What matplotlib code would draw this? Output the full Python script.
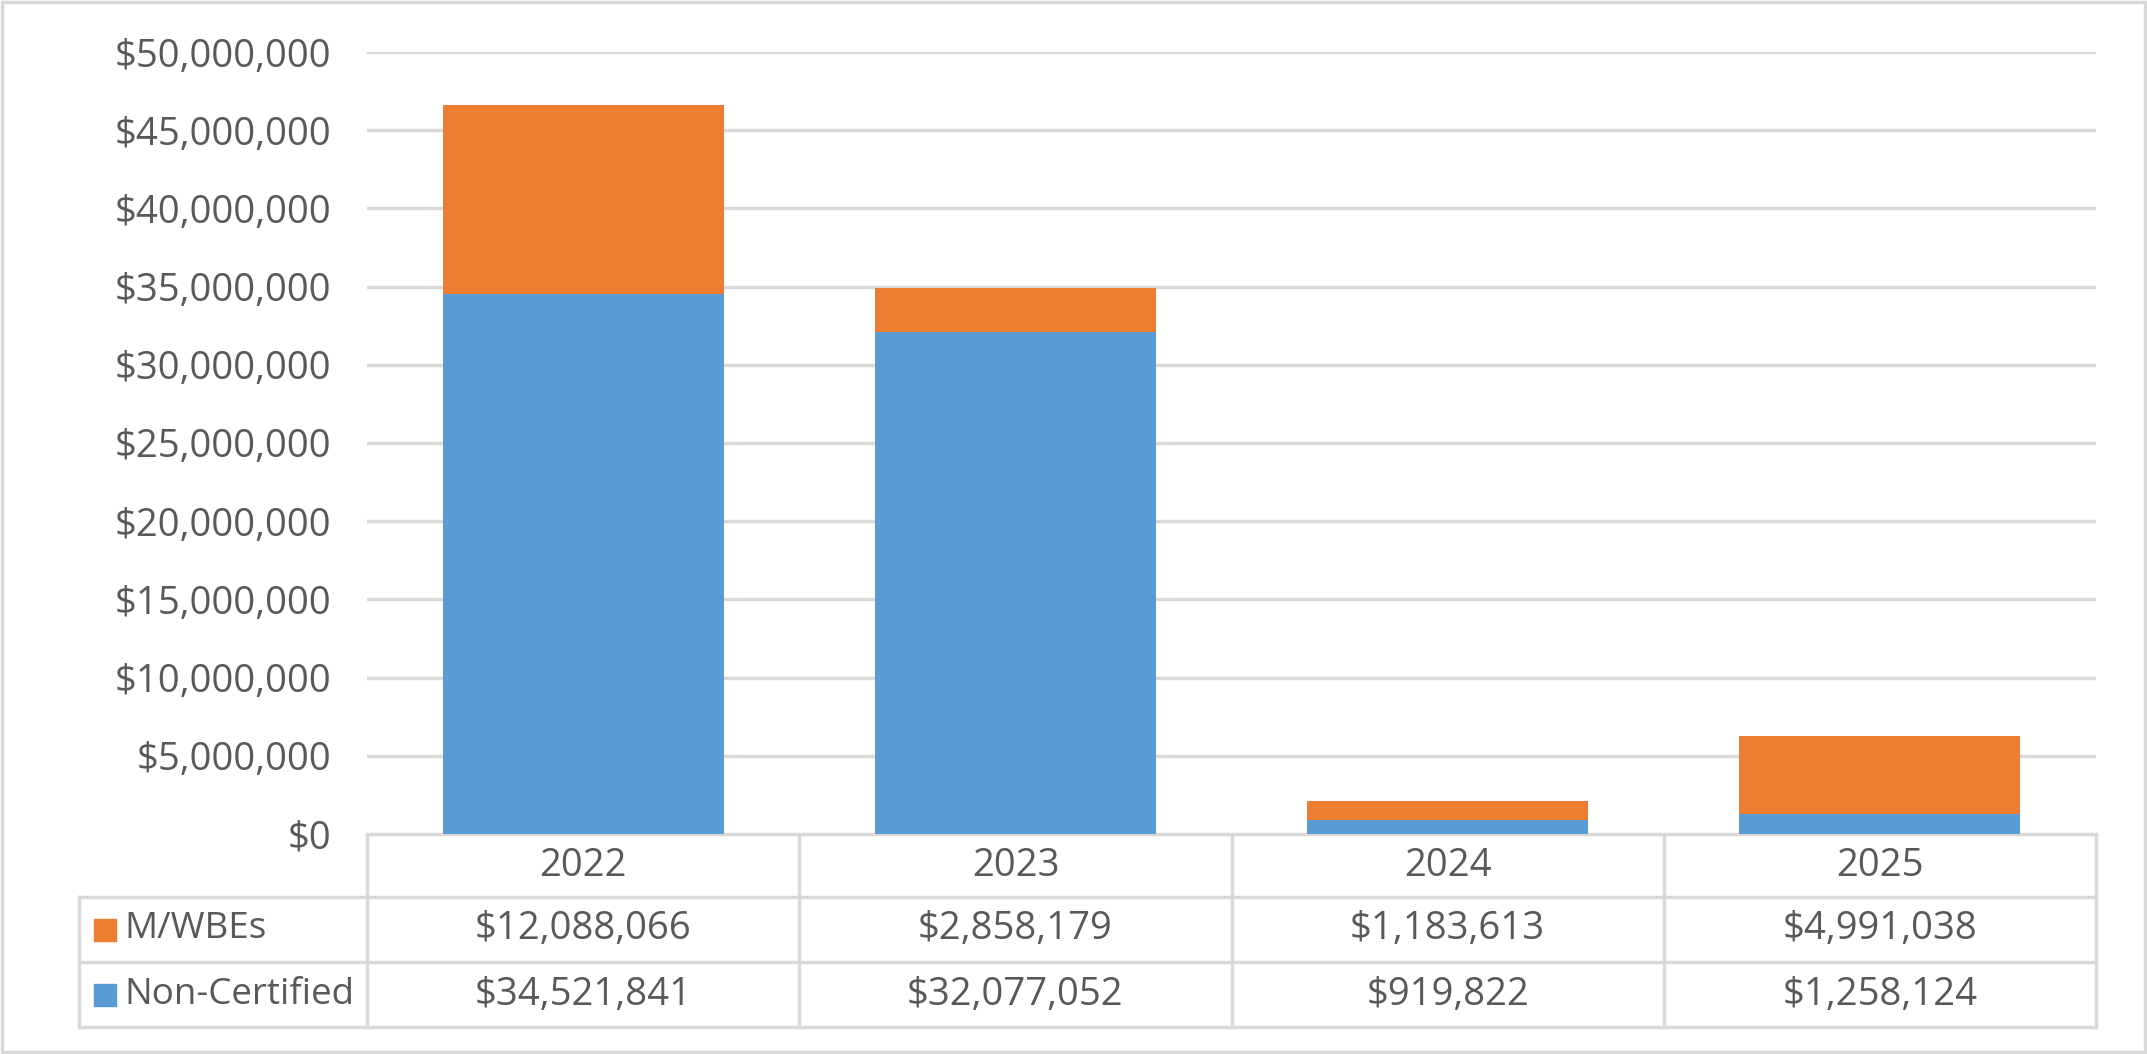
import matplotlib
matplotlib.use("Agg")
import matplotlib.pyplot as plt
import matplotlib.transforms as mtransforms
from matplotlib.patches import Rectangle
from matplotlib.ticker import FuncFormatter, MultipleLocator

plt.rcParams['font.family'] = ['Open Sans', 'DejaVu Sans']

# data
years = ["2022", "2023", "2024", "2025"]
mwbe = [12088066, 2858179, 1183613, 4991038]
non_cert = [34521841, 32077052, 919822, 1258124]
series_names = ["M/WBEs", "Non-Certified"]

orange = "#ED7D31"
blue = "#5B9BD5"
grid_col = "#D9D9D9"
txt_col = "#595959"
fs = 27.5

W, H = 2147, 1054
fig = plt.figure(figsize=(W / 100, H / 100), dpi=100)

# overlay in pixel coordinates for the table and border
ov = fig.add_axes([0, 0, 1, 1])
ov.set_xlim(0, W)
ov.set_ylim(H, 0)
ov.axis("off")

ax = fig.add_axes([367 / W, 1 - 834 / H, (2096 - 367) / W, (834 - 52) / H])
x = list(range(len(years)))
ax.bar(x, non_cert, width=0.65, color=blue, zorder=3)
ax.bar(x, mwbe, width=0.65, bottom=non_cert, color=orange, zorder=3)
ax.set_xlim(-0.5, len(years) - 0.5)
ax.set_ylim(0, 50000000)
ax.yaxis.set_major_locator(MultipleLocator(5000000))
ax.yaxis.set_major_formatter(FuncFormatter(lambda v, p: "${:,.0f}".format(v)))
ax.grid(axis="y", color=grid_col, linewidth=2.5, zorder=0)
ax.set_xticks([])
ax.tick_params(axis="y", length=0, pad=26, labelsize=fs, labelcolor=txt_col)
for s in ax.spines.values():
    s.set_visible(False)

# table: x in data coords of the bar axes, y in pixels
tr = mtransforms.blended_transform_factory(ax.transData, ov.transData)
row_y = [834, 897, 962, 1027]
lw = 2.5
left_px = 79

# horizontal lines
ov.plot([-0.5, len(years) - 0.5], [row_y[0], row_y[0]], color=grid_col, lw=lw, transform=tr, zorder=1)
for yy in row_y[1:]:
    ov.plot([left_px, 2096], [yy, yy], color=grid_col, lw=lw, zorder=1)
# vertical lines
for i in range(len(years) + 1):
    ov.plot([i - 0.5, i - 0.5], [row_y[0], row_y[-1]], color=grid_col, lw=lw, transform=tr, zorder=1)
ov.plot([left_px, left_px], [row_y[1], row_y[-1]], color=grid_col, lw=lw, zorder=1)

for i, yr in enumerate(years):
    ov.text(i, (row_y[0] + row_y[1]) / 2, yr, transform=tr, ha="center", va="center",
            fontsize=fs, color=txt_col)
    ov.text(i, (row_y[1] + row_y[2]) / 2, "${:,}".format(mwbe[i]), transform=tr,
            ha="center", va="center", fontsize=fs, color=txt_col)
    ov.text(i, (row_y[2] + row_y[3]) / 2, "${:,}".format(non_cert[i]), transform=tr,
            ha="center", va="center", fontsize=fs, color=txt_col)

# legend keys in the table
for name, col, r in [(series_names[0], orange, 1), (series_names[1], blue, 2)]:
    yc = (row_y[r] + row_y[r + 1]) / 2
    ov.add_patch(Rectangle((94, yc - 11), 22, 22, color=col))
    ov.text(124, yc, name, ha="left", va="center", fontsize=fs - 1, color=txt_col)

# chart border
ov.add_patch(Rectangle((1.5, 1.5), W - 4, H - 4, fill=False, edgecolor=grid_col, lw=2.5))

fig.savefig("out.png", dpi=100)
